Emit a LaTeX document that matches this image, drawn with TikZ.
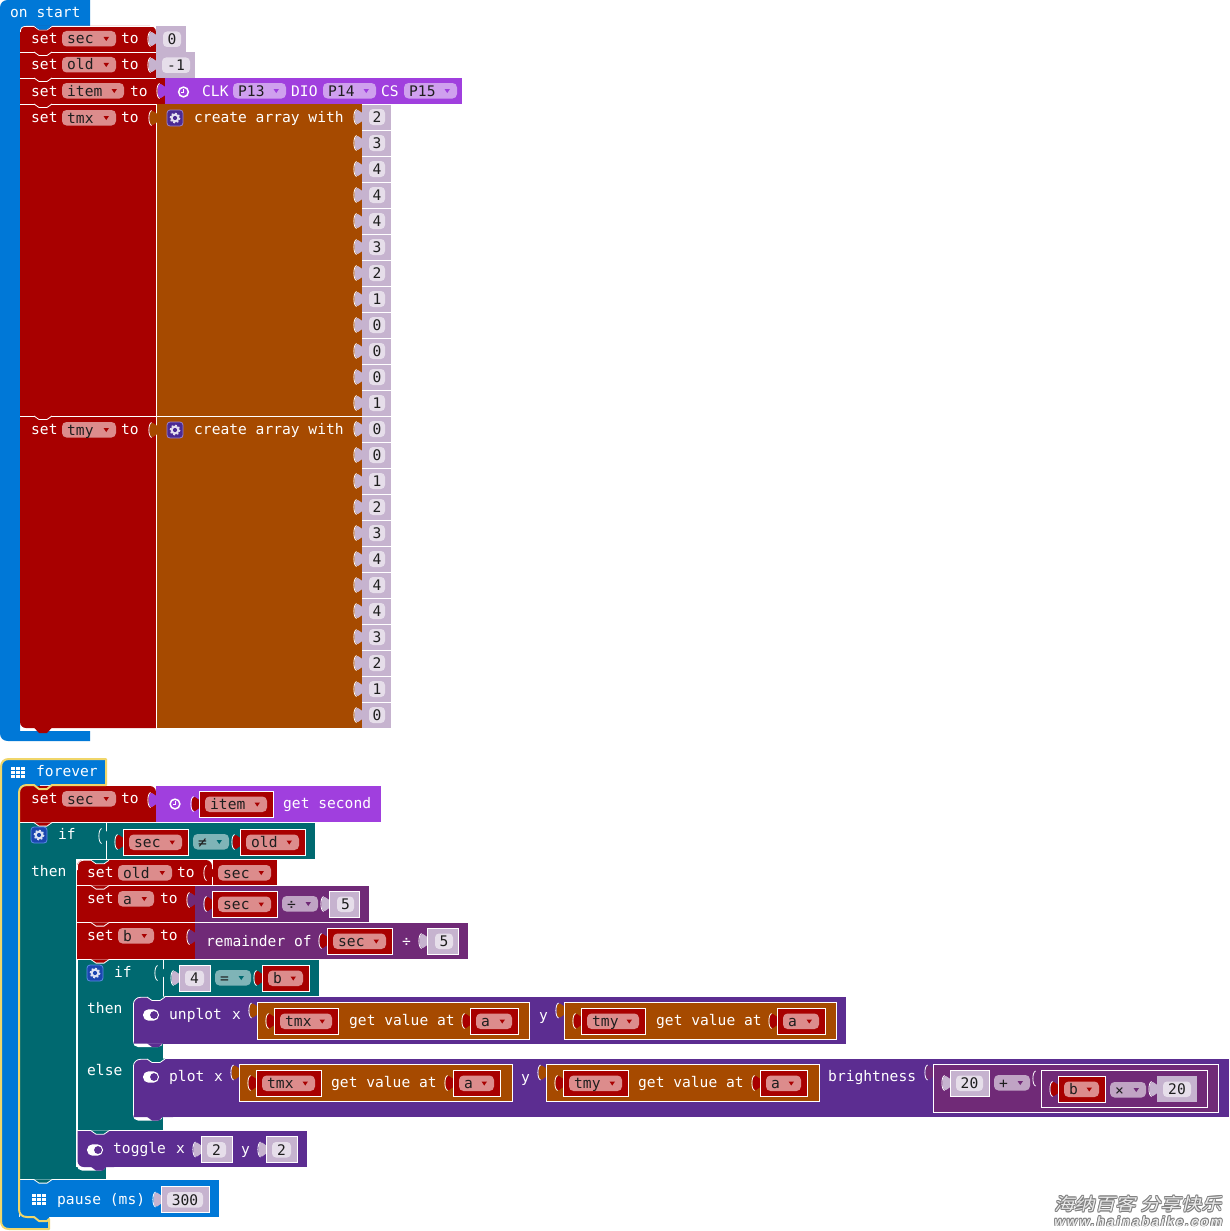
\documentclass[tikz,border=0pt]{standalone}
\usepackage{fontspec}
\setmainfont{DejaVu Sans Mono}
\newfontfamily\cjkwm[FakeSlant=0.2]{Noto Sans CJK SC}
\newfontfamily\latwm[LetterSpace=14,FakeSlant=0.2]{Liberation Sans Bold}
\definecolor{cred}{HTML}{A80000}
\definecolor{cbrown}{HTML}{A64A00}
\definecolor{cclock}{HTML}{A03FDE}
\definecolor{cblue}{HTML}{0078D7}
\definecolor{cteal}{HTML}{006970}
\definecolor{cmath}{HTML}{702A77}
\definecolor{cled}{HTML}{5C2D91}
\definecolor{cnum}{HTML}{C6B3CF}
\definecolor{cinner}{HTML}{E6DEEA}
\definecolor{cddred}{HTML}{DC8C8C}
\definecolor{cddteal}{HTML}{7FB4B7}
\definecolor{cddmath}{HTML}{C0A4C4}
\definecolor{cddclock}{HTML}{CFA0EE}
\definecolor{cgold}{HTML}{F0D66A}
\definecolor{cdark}{HTML}{1E1E1E}
\definecolor{cgearp}{HTML}{4B2A93}
\definecolor{cgearpb}{HTML}{9A82CC}
\definecolor{cgearb}{HTML}{1B47B0}
\definecolor{cgearbb}{HTML}{5A8CE6}
\tikzset{
  txt/.style={anchor=base west,inner sep=0pt,text=white,font=\fontsize{14.6}{16}\selectfont},
  dtxt/.style={anchor=base west,inner sep=0pt,text=cdark,font=\fontsize{14.6}{16}\selectfont},
  ctxt/.style={anchor=base,inner sep=0pt,text=cdark,font=\fontsize{14.6}{16}\selectfont},
}
% filled block
\newcommand{\bk}[5]{\fill[#5] (#1,#2) rectangle (#3,#4);}
% white label: x, centre y, text
\newcommand{\lb}[3]{\node[txt] at (#1,#2+5.5) {#3};}
% dropdown: x1,x2,y1,y2,fill,text,triangle colour
\newcommand{\ddn}[7]{\fill[#5,rounded corners=4.5pt] (#1,#3) rectangle (#2,#4);
  \node[dtxt] at (#1+5,#3+13) {#6};
  \fill[#7] (#2-12.5,#3+6) -- (#2-7,#3+6) -- (#2-9.75,#3+10) -- cycle;}
% value tab: x of socket edge, top of block, colour
\newcommand{\vtab}[3]{\fill[#3] (#1+1,#2+9.5) .. controls (#1-1.5,#2+9) and (#1-2,#2+6) .. (#1-4,#2+6)
   .. controls (#1-7,#2+6) and (#1-7.5,#2+9) .. (#1-7.5,#2+13)
   .. controls (#1-7.5,#2+17) and (#1-7,#2+20) .. (#1-4,#2+20)
   .. controls (#1-2,#2+20) and (#1-1.5,#2+17) .. (#1+1,#2+16.5) -- cycle;
  \draw[white,line width=.8pt] (#1-5.5,#2+5.5) .. controls (#1-9,#2+7) and (#1-9,#2+19) .. (#1-5.5,#2+20.5);}
% number box: x1,x2,y1,y2,inner x1, inner x2, text, border flag
\newcommand{\nbox}[8]{\vtab{#1}{#3}{cnum}
  \fill[cnum] (#1,#3) rectangle (#2,#4);
  \ifx#8y\draw[white,line width=.8pt] (#1,#3) rectangle (#2,#4);\fi
  \fill[cinner,rounded corners=4pt] (#5,#3+5.5) rectangle (#6,#3+21);
  \node[ctxt] at ({(#5+#6)/2},#3+18.5) {#7};}
% number in an array row: top y, text
\newcommand{\arrn}[2]{\vtab{362}{#1}{cnum}
  \fill[cnum] (362,#1) rectangle (391,#1+26);
  \fill[cinner,rounded corners=4pt] (369,#1+5) rectangle (385,#1+21);
  \node[ctxt] at (377,#1+18.3) {#2};
  \draw[white,line width=.4pt] (362,#1) -- (391,#1);}
% variable block: x1,x2,y1,y2,text
\newcommand{\varb}[5]{\vtab{#1}{#3}{cred}
  \fill[cred] (#1,#3) rectangle (#2,#4);
  \draw[white,line width=.8pt] (#1,#3) rectangle (#2,#4);
  \ddn{#1+6}{#2-6}{#3+5.5}{#3+21}{cddred}{#5}{cred}}
% statement notch: left edge, y, colour of the upper block
\newcommand{\notchh}[3]{\fill[#3] (#1+14,#2-.3) -- (#1+19,#2+3.5) -- (#1+27,#2+3.5) -- (#1+32,#2-.3) -- cycle;
  \draw[white,line width=.8pt] (#1+14,#2) -- (#1+19,#2+3.5) -- (#1+27,#2+3.5) -- (#1+32,#2);}
% gear icon: centre x,y, fill, border
\newcommand{\gear}[4]{\fill[#3,rounded corners=3pt] (#1-8,#2-8) rectangle (#1+8,#2+8);
  \draw[#4,rounded corners=3pt,line width=.8pt] (#1-8,#2-8) rectangle (#1+8,#2+8);
  \fill[white!85!#3] (#1,#2) circle (4.4);
  \draw[white!85!#3,line width=1.4pt,dash pattern=on 1.8pt off 1.9pt] (#1,#2) circle (4.8);
  \fill[#3] (#1,#2) circle (2.1);}
% clock icon
\newcommand{\clk}[2]{\draw[white,line width=1.5pt] (#1,#2) circle (4.9);
  \draw[white,line width=1pt] (#1,#2-3) -- (#1,#2+.5) -- (#1-2.5,#2+.5);}
% toggle icon
\newcommand{\togg}[3]{\fill[white,rounded corners=5.5pt] (#1-8,#2-5.7) rectangle (#1+8,#2+5.7);
  \fill[#3] (#1+3,#2) circle (3.9);}
% grid icon
\newcommand{\grd}[2]{\foreach \gi in {0,1,2}{\foreach \gj in {0,1,2}{
  \fill[white] (#1+\gi*4.8-7,#2+\gj*3.9-5.6) rectangle ++(4,3.2);}}}
% led block with rounded left corners: x1,y1,y2,x2, right end of the white gap below
\newcommand{\ledb}[5]{\fill[white,rounded corners=5pt] (#1,#3-10) -- (#1,#3+3.5) -- (#5,#3+3.5) [sharp corners] -- (#5,#3-10) -- cycle;
  \fill[cled,rounded corners=7pt] (#1+.6,#3) -- (#1+.6,#2) -- (#1+40,#2) [sharp corners] -- (#1+40,#3) -- cycle;
  \bk{#1+30}{#2}{#4}{#3}{cled}
  \draw[white,line width=.8pt,rounded corners=7pt] (#1+.4,#3-2) -- (#1+.4,#2+.3) -- (#1+14,#2+.3);
  \notchh{#1}{#2}{cteal}
  \fill[cled] (#1+14,#3-.2) -- (#1+19,#3+3.5) -- (#1+26,#3+3.5) -- (#1+29.5,#3-.2) -- cycle;}
\begin{document}
\begin{tikzpicture}[x=1pt,y=-1pt]
\useasboundingbox (0,0) rectangle (1229,1231);
\fill[white] (0,0) rectangle (1229,1231);
%% ---------- on start
\fill[cblue] (0,8) .. controls (0,3) and (3,0) .. (8,0) -- (90,0) -- (90,26) -- (20,26) -- (20,731) -- (90,731) -- (90,741) -- (8,741) .. controls (3,741) and (0,738) .. (0,733) -- cycle;
\node[txt] at (10,17.5) {on start};
\fill[cblue] (20,20) rectangle (40,40);
\fill[cred,rounded corners=6pt] (20,60) -- (20,26) -- (156,26) [sharp corners] -- (156,60) -- cycle;
\fill[cred] (20,52) rectangle (156,700);
\fill[cred,rounded corners=6pt] (20,690) -- (20,728) -- (60,728) [sharp corners] -- (156,728) -- (156,690) -- cycle;
\draw[white,line width=.8pt] (20.4,32) .. controls (20.4,28) and (22,26.4) .. (26,26.4) -- (34,26.4) -- (39,30) -- (47,30) -- (52,26.4) -- (156,26.4);
\fill[cblue] (34,25.5) -- (39,29.6) -- (47,29.6) -- (52,25.5) -- cycle;
\fill[cred] (34,727.5) -- (39,733) -- (47,733) -- (52,727.5) -- cycle;
\foreach \yy in {52,78,104,416}{\draw[white,line width=.8pt] (20,\yy) -- (156,\yy);}
\notchh{20}{52}{cred}\notchh{20}{78}{cred}\notchh{20}{104}{cred}\notchh{20}{416}{cred}
\lb{31}{38.5}{set}\ddn{62}{116}{31}{46.5}{cddred}{sec}{cred}\lb{121}{38.5}{to}
\nbox{156}{186}{26}{52}{163}{181}{0}{n}
\lb{31}{64.5}{set}\ddn{62}{116}{57}{72.5}{cddred}{old}{cred}\lb{121}{64.5}{to}
\nbox{156}{195}{52}{78}{162}{190}{-1}{n}
\lb{31}{90.5}{set}\ddn{62}{124}{83}{98.5}{cddred}{item}{cred}\lb{130}{90.5}{to}
\bk{156}{78}{165}{104}{cred}
\vtab{165}{78}{cclock}
\bk{165}{78}{462}{104}{cclock}
\clk{183.5}{92}
\lb{202}{90.5}{CLK}\ddn{233}{286}{83}{98.5}{cddclock}{P13}{cclock}
\lb{291}{90.5}{DIO}\ddn{323}{376}{83}{98.5}{cddclock}{P14}{cclock}
\lb{381}{90.5}{CS}\ddn{404}{457}{83}{98.5}{cddclock}{P15}{cclock}
% arrays
\bk{156}{104}{362}{728}{cbrown}
\draw[white,line width=.9pt] (156.4,104) -- (156.4,728);
\lb{31}{117}{set}\ddn{62}{116}{110}{125.5}{cddred}{tmx}{cred}\lb{121}{117}{to}
\vtab{157}{105}{cbrown}
\gear{175}{118}{cgearp}{cgearpb}
\lb{194}{117}{create array with}
\lb{31}{429}{set}\ddn{62}{116}{422}{437.5}{cddred}{tmy}{cred}\lb{121}{429}{to}
\vtab{157}{417}{cbrown}
\gear{175}{430}{cgearp}{cgearpb}
\lb{194}{429}{create array with}
\draw[white,line width=.8pt] (156,416) -- (362,416);
\foreach \nn [count=\ii from 0] in {2,3,4,4,4,3,2,1,0,0,0,1,0,0,1,2,3,4,4,4,3,2,1,0}{
  \pgfmathsetmacro{\ty}{104+26*\ii}
  \arrn{\ty}{\nn}}
%% ---------- forever
\fill[cblue] (9,759) -- (106,759) -- (106,785) -- (19,785) -- (19,1217) -- (49,1217) -- (49,1229) -- (9,1229) .. controls (4,1229) and (1,1226) .. (1,1221) -- (1,767) .. controls (1,762) and (4,759) .. (9,759) -- cycle;
\grd{18}{772.5}
\lb{36}{770.5}{forever}
% set sec
\fill[cblue] (19,785) rectangle (40,800);
\fill[cred,rounded corners=6pt] (20,822) -- (20,786) -- (156,786) [sharp corners] -- (156,822) -- cycle;
\bk{156}{786}{381}{822}{cclock}
\lb{31}{798}{set}\ddn{62}{116}{791}{806.5}{cddred}{sec}{cred}\lb{121}{798}{to}
\vtab{156}{787}{cclock}
\clk{175}{804}
\varb{199}{273}{791}{817}{item}
\lb{283}{803}{get second}
% outer if
\bk{20}{823}{76}{1180}{cteal}
\bk{20}{1167}{106}{1180}{cteal}
\bk{76}{823}{315}{859}{cteal}
\draw[white,line width=.8pt] (20,822.6) -- (381,822.6);
\notchh{20}{822.6}{cred}
\draw[white,line width=.8pt] (106.5,823) -- (106.5,860);
\gear{39}{835}{cgearb}{cgearbb}
\lb{58}{834}{if}
\vtab{107}{823}{cteal}
\varb{123}{188}{829}{855}{sec}
\ddn{193}{229}{834}{849.5}{cddteal}{≠}{cteal}
\varb{240}{305}{829}{855}{old}
\lb{31}{870.5}{then}
% inner statements
\fill[cred,rounded corners=6pt] (77,890) -- (77,860) -- (212,860) [sharp corners] -- (212,890) -- cycle;
\bk{212}{860}{277}{885.5}{cred}
\draw[white,line width=.8pt,rounded corners=6pt] (77.4,870) -- (77.4,860.3) -- (91,860.3);
\notchh{77}{860.3}{cteal}
\draw[white,line width=.8pt] (212.5,860) -- (212.5,885);
\vtab{212}{860}{cred}
\lb{87}{871.5}{set}\ddn{118}{172}{865}{880.5}{cddred}{old}{cred}\lb{177}{871.5}{to}
\ddn{218}{271}{865}{880.5}{cddred}{sec}{cred}
\bk{77}{886}{195}{922}{cred}
\draw[white,line width=.8pt] (77,885.6) -- (277,885.6);
\notchh{77}{885.6}{cred}
\lb{87}{897.5}{set}\ddn{118}{154}{891}{906.5}{cddred}{a}{cred}\lb{160}{897.5}{to}
\bk{195}{886}{369}{922}{cmath}
\vtab{195}{887}{cmath}
\varb{212}{277}{891}{917}{sec}
\ddn{282}{318}{896}{911.5}{cddmath}{÷}{cmath}
\nbox{329}{359}{891}{917}{337}{354}{5}{y}
\bk{77}{923}{195}{959}{cred}
\draw[white,line width=.8pt] (77,922.6) -- (195,922.6);
\notchh{77}{922.6}{cred}
\lb{87}{934.5}{set}\ddn{118}{154}{928}{943.5}{cddred}{b}{cred}\lb{160}{934.5}{to}
\bk{195}{923}{468}{959}{cmath}
\vtab{195}{924}{cmath}
\lb{206}{940.5}{remainder of}
\varb{327}{392}{928}{954}{sec}
\node[txt] at (402,946) {÷};
\nbox{427}{458}{928}{954}{435}{453}{5}{y}
% inner if
\bk{77}{960}{163}{1131}{cteal}
\bk{163}{960}{319}{996}{cteal}
\draw[white,line width=.8pt] (77,959.6) -- (195,959.6);
\notchh{77}{959.6}{cred}
\draw[white,line width=.8pt] (163.5,960) -- (163.5,997);
\gear{95}{973}{cgearb}{cgearbb}
\lb{114}{971.5}{if}
\vtab{163}{960}{cteal}
\nbox{179}{210}{965}{991}{185}{204}{4}{y}
\ddn{215}{251}{970}{985.5}{cddteal}{=}{cteal}
\varb{262}{309}{965}{991}{b}
\lb{87}{1007.5}{then}
\lb{87}{1069.5}{else}
\draw[white,line width=.9pt] (77.4,960) -- (77.4,1131);
% unplot
\ledb{133}{997}{1043.5}{846}{163}
\togg{151}{1015}{cled}
\lb{169}{1014}{unplot}\lb{232}{1014}{x}
\vtab{257}{997.5}{cbrown}
\bk{257}{1002}{529}{1039}{cbrown}\draw[white,line width=.8pt] (257,1002) rectangle (529,1039);
\varb{274}{338}{1008}{1034}{tmx}
\lb{349}{1020}{get value at}
\varb{470}{518}{1008}{1034}{a}
\lb{539}{1015}{y}
\vtab{564}{997.5}{cbrown}
\bk{564}{1002}{836}{1039}{cbrown}\draw[white,line width=.8pt] (564,1002) rectangle (836,1039);
\varb{581}{645}{1008}{1034}{tmy}
\lb{656}{1020}{get value at}
\varb{777}{825}{1008}{1034}{a}
% plot
\ledb{133}{1059}{1117}{1229}{163}
\togg{151}{1077}{cled}
\lb{169}{1076}{plot}\lb{214}{1076}{x}
\vtab{239}{1059.5}{cbrown}
\bk{239}{1064}{512}{1101}{cbrown}\draw[white,line width=.8pt] (239,1064) rectangle (512,1101);
\varb{256}{321}{1070}{1096}{tmx}
\lb{331}{1082}{get value at}
\varb{453}{500}{1070}{1096}{a}
\lb{521}{1077}{y}
\vtab{546}{1059.5}{cbrown}
\bk{546}{1064}{819}{1101}{cbrown}\draw[white,line width=.8pt] (546,1064) rectangle (819,1101);
\varb{563}{628}{1070}{1096}{tmy}
\lb{638}{1082}{get value at}
\varb{760}{807}{1070}{1096}{a}
\lb{828}{1076}{brightness}
\vtab{933}{1059.5}{cmath}
\bk{933}{1064}{1218.5}{1112}{cmath}\draw[white,line width=.8pt] (933,1064) rectangle (1218.5,1112);
\nbox{950}{989}{1070}{1096}{956}{983}{20}{y}
\ddn{994}{1030}{1075}{1090.5}{cddmath}{+}{cmath}
\vtab{1041}{1065.5}{cmath}
\bk{1041}{1070}{1207.5}{1107}{cmath}\draw[white,line width=.8pt] (1041,1070) rectangle (1207.5,1107);
\varb{1058}{1105}{1076}{1102}{b}
\ddn{1110}{1146}{1082}{1097.5}{cddmath}{×}{cmath}
\nbox{1157}{1197}{1076}{1102}{1163}{1191}{20}{n}
% toggle
\fill[white,rounded corners=5pt] (77,1155) -- (77,1170.5) -- (106,1170.5) [sharp corners] -- (106,1155) -- cycle;
\fill[cled,rounded corners=6pt] (77.6,1160) -- (77.6,1167) -- (120,1167) [sharp corners] -- (120,1131) -- (77.6,1131) -- cycle;
\bk{110}{1131}{307}{1167}{cled}
\draw[white,line width=.8pt] (77,1130.7) -- (307,1130.7);
\notchh{77}{1130.7}{cteal}
\fill[cled] (91,1166.8) -- (96,1170.5) -- (103,1170.5) -- (106.5,1166.8) -- cycle;
\togg{95}{1150}{cled}
\lb{113}{1148}{toggle}\lb{176}{1148}{x}
\nbox{201}{232}{1136.5}{1162.5}{207}{226}{2}{y}
\lb{241}{1149}{y}
\nbox{266}{297}{1136.5}{1162.5}{272}{291}{2}{y}
% pause
\bk{20}{1180}{219}{1217}{cblue}
\draw[white,line width=.8pt] (20,1179.6) -- (106,1179.6);
\notchh{20}{1179.6}{cteal}
\grd{39}{1199.5}
\lb{57}{1198.5}{pause (ms)}
\nbox{161}{209}{1186.5}{1212.5}{167}{203}{300}{y}
% gold outline of the selected stack
\draw[cgold,line width=2pt,line join=round] (9,759) -- (106,759) -- (106,785) -- (52,785) -- (47,789) -- (39,789) -- (34,785) -- (27,785) .. controls (22,785) and (19,788) .. (19,793) -- (19,1209) .. controls (19,1214) and (22,1217) .. (27,1217) -- (34,1217) -- (39,1221) -- (47,1221) -- (49,1219) -- (49,1229) -- (9,1229) .. controls (4,1229) and (1,1226) .. (1,1221) -- (1,767) .. controls (1,762) and (4,759) .. (9,759) -- cycle;
%% ---------- watermark
\foreach \ox/\oy in {-.8/0,.8/0,0/-.8,0/.8,-.6/-.6,.6/-.6,-.6/.6,.6/.6}{
  \node[anchor=base east,inner sep=0pt,text=black!50,xscale=1.2,font=\cjkwm\fontsize{17}{18}\selectfont] at (1222+\ox,1210.5+\oy) {海纳百客 分享快乐};
  \node[anchor=base east,inner sep=0pt,text=black!50,font=\latwm\fontsize{13.5}{14}\selectfont] at (1222+\ox,1226+\oy) {www.hainabaike.com};
}
\node[anchor=base east,inner sep=0pt,text=white!92!black,xscale=1.2,font=\cjkwm\fontsize{17}{18}\selectfont] at (1222,1210.5) {海纳百客 分享快乐};
\node[anchor=base east,inner sep=0pt,text=white!92!black,font=\latwm\fontsize{13.5}{14}\selectfont] at (1222,1226) {www.hainabaike.com};
\end{tikzpicture}
\end{document}
